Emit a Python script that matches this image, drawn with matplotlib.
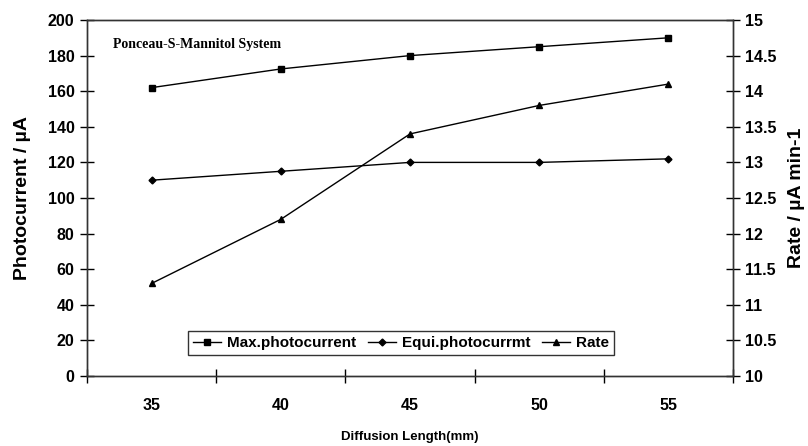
import matplotlib
matplotlib.use("Agg")
import matplotlib.pyplot as plt

# ---- Data
diffusion_length = [35, 40, 45, 50, 55]
max_photocurrent = [162, 172.5, 180, 185, 190]
equi_photocurrent = [110, 115, 120, 120, 122]
rate = [11.3, 12.2, 13.4, 13.8, 14.1]

left_ticks = [0, 20, 40, 60, 80, 100, 120, 140, 160, 180, 200]
right_ticks = [10, 10.5, 11, 11.5, 12, 12.5, 13, 13.5, 14, 14.5, 15]
right_labels = ["10", "10.5", "11", "11.5", "12", "12.5", "13", "13.5", "14", "14.5", "15"]

narrow = ["Liberation Sans Narrow", "Liberation Sans", "DejaVu Sans"]
sans = ["Liberation Sans", "DejaVu Sans"]
serif = ["Liberation Serif", "DejaVu Serif"]

fig = plt.figure(figsize=(8.08, 4.46), dpi=100)
ax = fig.add_axes([87/808, 70/446, (733-87)/808, (376-20)/446])
ax2 = ax.twinx()

l1, = ax.plot(diffusion_length, max_photocurrent, "-s", color="black",
              lw=1, ms=5, label="Max.photocurrent")
l2, = ax.plot(diffusion_length, equi_photocurrent, "-D", color="black",
              lw=1, ms=3.5, label="Equi.photocurrmt")
l3, = ax2.plot(diffusion_length, rate, "-^", color="black",
               lw=1, ms=5, label="Rate")

# category style x axis: ticks between categories
ax.set_xlim(32.5, 57.5)
ax.set_xticks([32.5, 37.5, 42.5, 47.5, 52.5, 57.5])
ax.set_xticklabels([])
ax.set_xticks(diffusion_length, minor=True)
ax.set_xticklabels([str(v) for v in diffusion_length], minor=True,
                   fontfamily=narrow, fontweight="bold", fontsize=11.5)
ax.tick_params(axis="x", which="minor", length=0, pad=15.5)
ax.tick_params(axis="x", which="major", direction="inout", length=10, width=1)

ax.set_ylim(0, 200)
ax.set_yticks(left_ticks)
ax.set_yticklabels([str(v) for v in left_ticks], fontfamily=narrow,
                   fontweight="bold", fontsize=11.5)
ax.tick_params(axis="y", direction="inout", length=10, width=1, pad=4)

ax2.set_ylim(10, 15)
ax2.set_yticks(right_ticks)
ax2.set_yticklabels(right_labels, fontfamily=narrow, fontweight="bold", fontsize=11.5)
ax2.tick_params(axis="y", direction="inout", length=10, width=1, pad=4)

for a in (ax, ax2):
    for s in a.spines.values():
        s.set_linewidth(1)
        s.set_color("#333333")

ax.set_ylabel("Photocurrent / µA", fontfamily=sans, fontweight="bold",
              fontsize=14, labelpad=12)
ax2.set_ylabel("Rate / µA min-1", fontfamily=sans, fontweight="bold",
               fontsize=14, labelpad=8)
ax.set_xlabel("Diffusion Length(mm)", fontfamily=narrow, fontweight="bold",
              fontsize=9.5, va="center")
ax.xaxis.set_label_coords(0.5, -61 / 356)

ax.text(0.04, 0.93, "Ponceau-S-Mannitol System", transform=ax.transAxes,
        fontfamily=serif, fontweight="bold", fontsize=10, va="center")

leg = ax.legend(handles=[l1, l2, l3], loc="center",
                bbox_to_anchor=((401 - 87) / 646, (376 - 343) / 356),
                ncol=3, frameon=True, fancybox=False, edgecolor="black",
                handlelength=1.8, handletextpad=0.4, columnspacing=0.8,
                borderpad=0.35, prop={"family": sans, "weight": "bold", "size": 11})
leg.get_frame().set_linewidth(1)

fig.savefig("out.png", dpi=100)
